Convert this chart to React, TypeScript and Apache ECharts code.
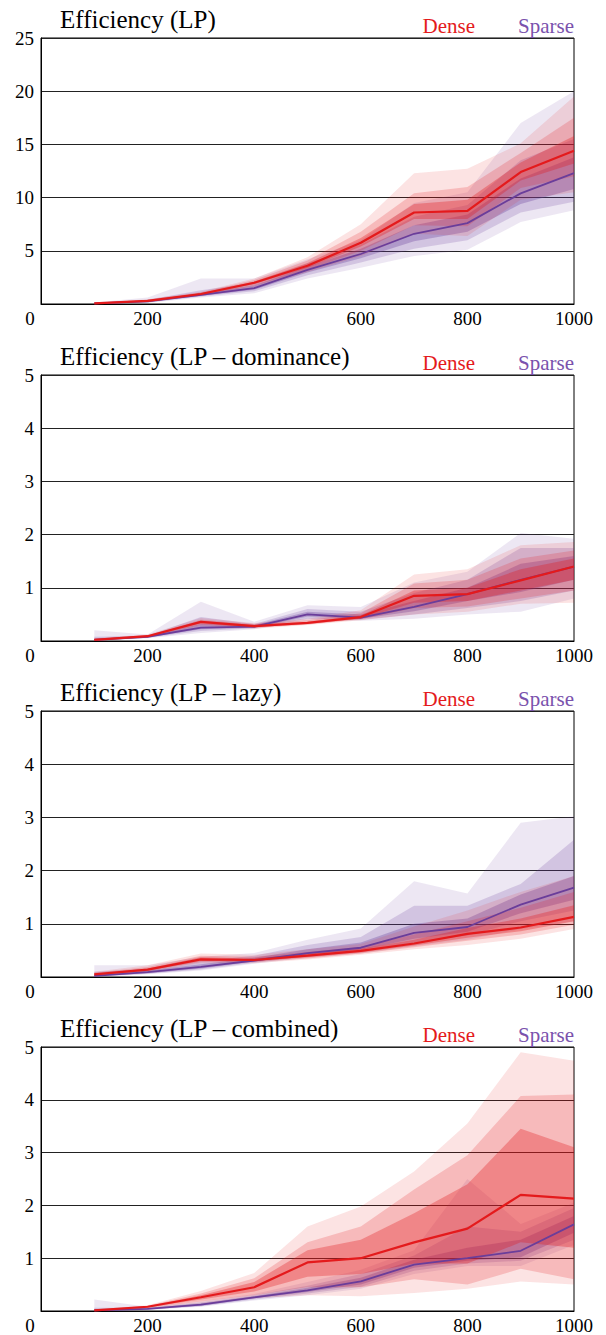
import React, { useEffect, useRef } from "react";
import * as echarts from "echarts";

// ---------- data ----------
const XS = [100, 200, 300, 400, 500, 600, 700, 800, 900, 1000];

const TITLES = [
  "Efficiency (LP)",
  "Efficiency (LP \u2013 dominance)",
  "Efficiency (LP \u2013 lazy)",
  "Efficiency (LP \u2013 combined)",
];
const Y_MAX = [25, 5, 5, 5];
const Y_STEP = [5, 1, 1, 1];
const LEGEND = ["Dense", "Sparse"];

// Panel 1 – LP
const P1_DENSE_MED = [0.06, 0.3, 0.94, 2.0, 3.6, 5.75, 8.6, 8.75, 12.4, 14.4];
const P1_DENSE_OUT_HI = [0.12, 0.45, 1.15, 2.4, 4.4, 7.5, 12.3, 12.7, 15.1, 19.5];
const P1_DENSE_OUT_LO = [0.02, 0.2, 0.75, 1.6, 3.0, 4.5, 6.6, 6.4, 9.8, 10.5];
const P1_DENSE_MID_HI = [0.1, 0.4, 1.07, 2.25, 4.1, 6.8, 10.4, 11.0, 14.2, 17.5];
const P1_DENSE_MID_LO = [0.04, 0.24, 0.82, 1.75, 3.2, 5.0, 7.4, 7.3, 10.9, 12.0];
const P1_DENSE_IN_HI = [0.08, 0.35, 1.0, 2.12, 3.85, 6.2, 9.4, 9.8, 13.3, 15.8];
const P1_DENSE_IN_LO = [0.05, 0.27, 0.88, 1.88, 3.4, 5.4, 8.0, 8.0, 11.6, 13.2];
const P1_SPARSE_MED = [0.05, 0.25, 0.85, 1.5, 3.2, 4.7, 6.6, 7.6, 10.4, 12.3];
const P1_SPARSE_OUT_HI = [0.15, 0.6, 2.4, 2.4, 4.2, 6.0, 9.5, 10.5, 17.0, 20.0];
const P1_SPARSE_OUT_LO = [0.02, 0.1, 0.6, 1.0, 2.4, 3.4, 4.5, 5.1, 7.7, 8.8];
const P1_SPARSE_MID_HI = [0.1, 0.4, 1.3, 2.0, 3.8, 5.6, 8.2, 9.3, 13.5, 15.5];
const P1_SPARSE_MID_LO = [0.03, 0.15, 0.7, 1.2, 2.7, 3.9, 5.2, 6.0, 8.6, 9.6];
const P1_SPARSE_IN_HI = [0.07, 0.32, 1.0, 1.75, 3.5, 5.2, 7.4, 8.4, 11.8, 13.8];
const P1_SPARSE_IN_LO = [0.04, 0.2, 0.78, 1.35, 2.95, 4.3, 5.9, 6.8, 9.4, 10.8];

// Panel 2 – LP dominance
const P2_DENSE_MED = [0.02, 0.09, 0.36, 0.28, 0.34, 0.45, 0.85, 0.88, 1.14, 1.4];
const P2_DENSE_OUT_HI = [0.05, 0.12, 0.43, 0.34, 0.42, 0.58, 1.25, 1.35, 1.8, 1.86];
const P2_DENSE_OUT_LO = [0.01, 0.06, 0.28, 0.23, 0.3, 0.39, 0.5, 0.55, 0.7, 0.72];
const P2_DENSE_MID_HI = [0.04, 0.11, 0.4, 0.32, 0.39, 0.52, 1.08, 1.15, 1.55, 1.7];
const P2_DENSE_MID_LO = [0.01, 0.07, 0.31, 0.25, 0.31, 0.41, 0.62, 0.65, 0.8, 0.95];
const P2_DENSE_IN_HI = [0.03, 0.1, 0.38, 0.3, 0.36, 0.48, 0.95, 1.0, 1.35, 1.55];
const P2_DENSE_IN_LO = [0.015, 0.08, 0.33, 0.26, 0.32, 0.42, 0.72, 0.75, 0.95, 1.15];
const P2_SPARSE_MED = [0.02, 0.08, 0.25, 0.27, 0.5, 0.44, 0.64, 0.88, 1.15, 1.4];
const P2_SPARSE_OUT_HI = [0.2, 0.12, 0.74, 0.36, 0.67, 0.64, 1.1, 1.3, 2.03, 1.92];
const P2_SPARSE_OUT_LO = [0.0, 0.05, 0.15, 0.22, 0.38, 0.38, 0.42, 0.5, 0.55, 0.8];
const P2_SPARSE_MID_HI = [0.08, 0.1, 0.45, 0.32, 0.6, 0.55, 0.9, 1.15, 1.75, 1.75];
const P2_SPARSE_MID_LO = [0.01, 0.06, 0.19, 0.24, 0.42, 0.4, 0.5, 0.62, 0.75, 0.95];
const P2_SPARSE_IN_HI = [0.04, 0.09, 0.32, 0.3, 0.55, 0.5, 0.75, 1.0, 1.45, 1.6];
const P2_SPARSE_IN_LO = [0.015, 0.07, 0.22, 0.25, 0.46, 0.42, 0.56, 0.75, 0.92, 1.15];

// Panel 3 – LP lazy
const P3_DENSE_MED = [0.05, 0.14, 0.33, 0.32, 0.4, 0.49, 0.63, 0.81, 0.93, 1.13];
const P3_DENSE_OUT_HI = [0.1, 0.22, 0.44, 0.42, 0.52, 0.62, 0.95, 1.25, 1.6, 1.9];
const P3_DENSE_OUT_LO = [0.02, 0.1, 0.26, 0.26, 0.33, 0.42, 0.52, 0.6, 0.72, 0.9];
const P3_DENSE_MID_HI = [0.08, 0.19, 0.4, 0.38, 0.47, 0.57, 0.8, 1.05, 1.3, 1.6];
const P3_DENSE_MID_LO = [0.03, 0.11, 0.28, 0.28, 0.35, 0.44, 0.56, 0.68, 0.8, 0.98];
const P3_DENSE_IN_HI = [0.06, 0.16, 0.37, 0.35, 0.44, 0.53, 0.7, 0.92, 1.1, 1.35];
const P3_DENSE_IN_LO = [0.04, 0.12, 0.3, 0.3, 0.37, 0.46, 0.59, 0.74, 0.86, 1.05];
const P3_SPARSE_MED = [0.02, 0.09, 0.19, 0.31, 0.45, 0.55, 0.83, 0.94, 1.36, 1.68];
const P3_SPARSE_OUT_HI = [0.22, 0.22, 0.38, 0.45, 0.7, 0.91, 1.8, 1.57, 2.9, 3.02];
const P3_SPARSE_OUT_LO = [0.0, 0.05, 0.12, 0.25, 0.36, 0.44, 0.58, 0.7, 0.9, 1.05];
const P3_SPARSE_MID_HI = [0.1, 0.15, 0.3, 0.4, 0.6, 0.75, 1.34, 1.34, 1.75, 2.58];
const P3_SPARSE_MID_LO = [0.01, 0.06, 0.14, 0.27, 0.39, 0.48, 0.65, 0.78, 1.05, 1.25];
const P3_SPARSE_IN_HI = [0.05, 0.12, 0.24, 0.36, 0.52, 0.65, 1.0, 1.1, 1.55, 1.9];
const P3_SPARSE_IN_LO = [0.015, 0.07, 0.16, 0.29, 0.42, 0.51, 0.72, 0.85, 1.2, 1.45];

// Panel 4 – LP combined
const P4_DENSE_MED = [0.01, 0.08, 0.26, 0.45, 0.92, 1.0, 1.3, 1.56, 2.2, 2.13];
const P4_DENSE_OUT_HI = [0.03, 0.11, 0.38, 0.72, 1.6, 1.98, 2.64, 3.55, 4.9, 4.74];
const P4_DENSE_OUT_LO = [0.0, 0.05, 0.14, 0.24, 0.3, 0.28, 0.34, 0.42, 0.56, 0.5];
const P4_DENSE_MID_HI = [0.02, 0.1, 0.33, 0.62, 1.3, 1.6, 2.3, 2.95, 4.07, 4.1];
const P4_DENSE_MID_LO = [0.005, 0.06, 0.18, 0.3, 0.45, 0.45, 0.6, 0.5, 0.8, 0.6];
const P4_DENSE_IN_HI = [0.015, 0.09, 0.3, 0.55, 1.15, 1.35, 1.85, 2.4, 3.45, 3.1];
const P4_DENSE_IN_LO = [0.008, 0.07, 0.22, 0.37, 0.65, 0.7, 0.9, 0.9, 1.3, 1.2];
const P4_SPARSE_MED = [0.01, 0.04, 0.12, 0.26, 0.39, 0.56, 0.88, 1.0, 1.14, 1.64];
const P4_SPARSE_OUT_HI = [0.22, 0.08, 0.18, 0.32, 0.55, 0.78, 1.15, 2.5, 1.65, 2.05];
const P4_SPARSE_OUT_LO = [0.0, 0.02, 0.08, 0.2, 0.3, 0.42, 0.7, 0.85, 0.85, 1.25];
const P4_SPARSE_MID_HI = [0.06, 0.06, 0.16, 0.3, 0.48, 0.7, 1.05, 1.6, 1.5, 1.95];
const P4_SPARSE_MID_LO = [0.005, 0.03, 0.09, 0.22, 0.33, 0.46, 0.76, 0.9, 0.95, 1.35];
const P4_SPARSE_IN_HI = [0.03, 0.05, 0.14, 0.28, 0.44, 0.63, 0.97, 1.2, 1.35, 1.8];
const P4_SPARSE_IN_LO = [0.008, 0.035, 0.1, 0.24, 0.36, 0.5, 0.82, 0.95, 1.02, 1.48];

// ---------- styling ----------
const RED = "#e41a1c";
const PURPLE = "#6a3d9a";
const RED_RGB = "228,26,28";
const PURPLE_RGB = "106,61,154";
const BAND_ALPHA = [0.12, 0.2, 0.32];
const FONT = "Liberation Serif";
const GRID_TOPS = [38, 375, 711, 1047];
const GRID_LEFT = 41;
const GRID_W = 533;
const GRID_H = 266;

type Set = { med: number[]; bands: number[][][] };
const PANELS: { dense: Set; sparse: Set }[] = [
  {
    dense: { med: P1_DENSE_MED, bands: [[P1_DENSE_OUT_LO, P1_DENSE_OUT_HI], [P1_DENSE_MID_LO, P1_DENSE_MID_HI], [P1_DENSE_IN_LO, P1_DENSE_IN_HI]] },
    sparse: { med: P1_SPARSE_MED, bands: [[P1_SPARSE_OUT_LO, P1_SPARSE_OUT_HI], [P1_SPARSE_MID_LO, P1_SPARSE_MID_HI], [P1_SPARSE_IN_LO, P1_SPARSE_IN_HI]] },
  },
  {
    dense: { med: P2_DENSE_MED, bands: [[P2_DENSE_OUT_LO, P2_DENSE_OUT_HI], [P2_DENSE_MID_LO, P2_DENSE_MID_HI], [P2_DENSE_IN_LO, P2_DENSE_IN_HI]] },
    sparse: { med: P2_SPARSE_MED, bands: [[P2_SPARSE_OUT_LO, P2_SPARSE_OUT_HI], [P2_SPARSE_MID_LO, P2_SPARSE_MID_HI], [P2_SPARSE_IN_LO, P2_SPARSE_IN_HI]] },
  },
  {
    dense: { med: P3_DENSE_MED, bands: [[P3_DENSE_OUT_LO, P3_DENSE_OUT_HI], [P3_DENSE_MID_LO, P3_DENSE_MID_HI], [P3_DENSE_IN_LO, P3_DENSE_IN_HI]] },
    sparse: { med: P3_SPARSE_MED, bands: [[P3_SPARSE_OUT_LO, P3_SPARSE_OUT_HI], [P3_SPARSE_MID_LO, P3_SPARSE_MID_HI], [P3_SPARSE_IN_LO, P3_SPARSE_IN_HI]] },
  },
  {
    dense: { med: P4_DENSE_MED, bands: [[P4_DENSE_OUT_LO, P4_DENSE_OUT_HI], [P4_DENSE_MID_LO, P4_DENSE_MID_HI], [P4_DENSE_IN_LO, P4_DENSE_IN_HI]] },
    sparse: { med: P4_SPARSE_MED, bands: [[P4_SPARSE_OUT_LO, P4_SPARSE_OUT_HI], [P4_SPARSE_MID_LO, P4_SPARSE_MID_HI], [P4_SPARSE_IN_LO, P4_SPARSE_IN_HI]] },
  },
];

function bandSeries(gi: number, set: Set, rgb: string, name: string, z: number) {
  return {
    type: "custom",
    name,
    xAxisIndex: gi,
    yAxisIndex: gi,
    silent: true,
    z,
    clip: true,
    data: set.bands.map((_, i) => [XS[0], 0, i]),
    renderItem: (params: any, api: any) => {
      const [lo, hi] = set.bands[params.dataIndex];
      const pts: number[][] = [];
      for (let i = 0; i < XS.length; i++) pts.push(api.coord([XS[i], hi[i]]));
      for (let i = XS.length - 1; i >= 0; i--) pts.push(api.coord([XS[i], lo[i]]));
      return {
        type: "polygon",
        shape: { points: pts },
        style: { fill: `rgba(${rgb},${BAND_ALPHA[params.dataIndex]})`, stroke: "none" },
      };
    },
  };
}

function lineSeries(gi: number, set: Set, color: string, name: string, width: number, z: number) {
  return {
    type: "line",
    name,
    xAxisIndex: gi,
    yAxisIndex: gi,
    z,
    symbol: "none",
    silent: true,
    data: XS.map((x, i) => [x, set.med[i]]),
    lineStyle: { color, width },
  };
}

export default function App() {
  const ref = useRef<HTMLDivElement>(null);
  useEffect(() => {
    if (!ref.current) return;
    const chart = echarts.init(ref.current, undefined, { renderer: "svg" });
    const grid: any[] = [];
    const xAxis: any[] = [];
    const yAxis: any[] = [];
    const series: any[] = [];
    const graphic: any[] = [];
    PANELS.forEach((p, gi) => {
      const top = GRID_TOPS[gi];
      grid.push({
        left: GRID_LEFT,
        top,
        width: GRID_W,
        height: GRID_H,
        show: true,
        borderColor: "#000",
        borderWidth: 1,
        backgroundColor: "transparent",
      });
      xAxis.push({
        type: "value",
        gridIndex: gi,
        min: 0,
        max: 1000,
        interval: 200,
        axisLine: { show: true, lineStyle: { color: "#000", width: 1 } },
        axisTick: { show: false },
        splitLine: { show: false },
        axisLabel: {
          color: "#000",
          fontFamily: FONT,
          fontSize: 19,
          margin: 5,
          formatter: (v: number) => (v === 0 ? "{z|0}" : String(v)),
          rich: { z: { fontFamily: FONT, fontSize: 19, color: "#000", padding: [0, 22, 0, 0] } },
        },
      });
      yAxis.push({
        type: "value",
        gridIndex: gi,
        min: 0,
        max: Y_MAX[gi],
        interval: Y_STEP[gi],
        axisLine: { show: true, lineStyle: { color: "#000", width: 1 } },
        axisTick: { show: false },
        splitLine: { show: true, lineStyle: { color: "#222", width: 1 } },
        axisLabel: {
          color: "#000",
          fontFamily: FONT,
          fontSize: 19,
          margin: 7,
          formatter: (v: number) => (v === 0 ? "" : String(v)),
        },
      });
      series.push(bandSeries(gi, p.sparse, PURPLE_RGB, LEGEND[1], 2));
      series.push(bandSeries(gi, p.dense, RED_RGB, LEGEND[0], 3));
      series.push(lineSeries(gi, p.sparse, PURPLE, LEGEND[1], 1.8, 4));
      series.push(lineSeries(gi, p.dense, RED, LEGEND[0], 2.2, 5));
      graphic.push({
        type: "text",
        x: 60,
        y: top - 19,
        style: {
          text: TITLES[gi],
          fill: "#000",
          fontFamily: FONT,
          fontSize: 25,
          verticalAlign: "middle",
        },
      });
      graphic.push({
        type: "text",
        x: 475,
        y: top - 12,
        style: {
          text: LEGEND[0],
          fill: RED,
          fontFamily: FONT,
          fontSize: 21,
          align: "right",
          verticalAlign: "middle",
        },
      });
      graphic.push({
        type: "text",
        x: 574,
        y: top - 12,
        style: {
          text: LEGEND[1],
          fill: "#7a52ad",
          fontFamily: FONT,
          fontSize: 21,
          align: "right",
          verticalAlign: "middle",
        },
      });
    });
    chart.setOption({
      animation: false,
      backgroundColor: "#fff",
      grid,
      xAxis,
      yAxis,
      series,
      graphic,
    });
    return () => chart.dispose();
  }, []);
  return <div ref={ref} style={{ position: "absolute", left: 0, top: 0, width: 606, height: 1335 }} />;
}
